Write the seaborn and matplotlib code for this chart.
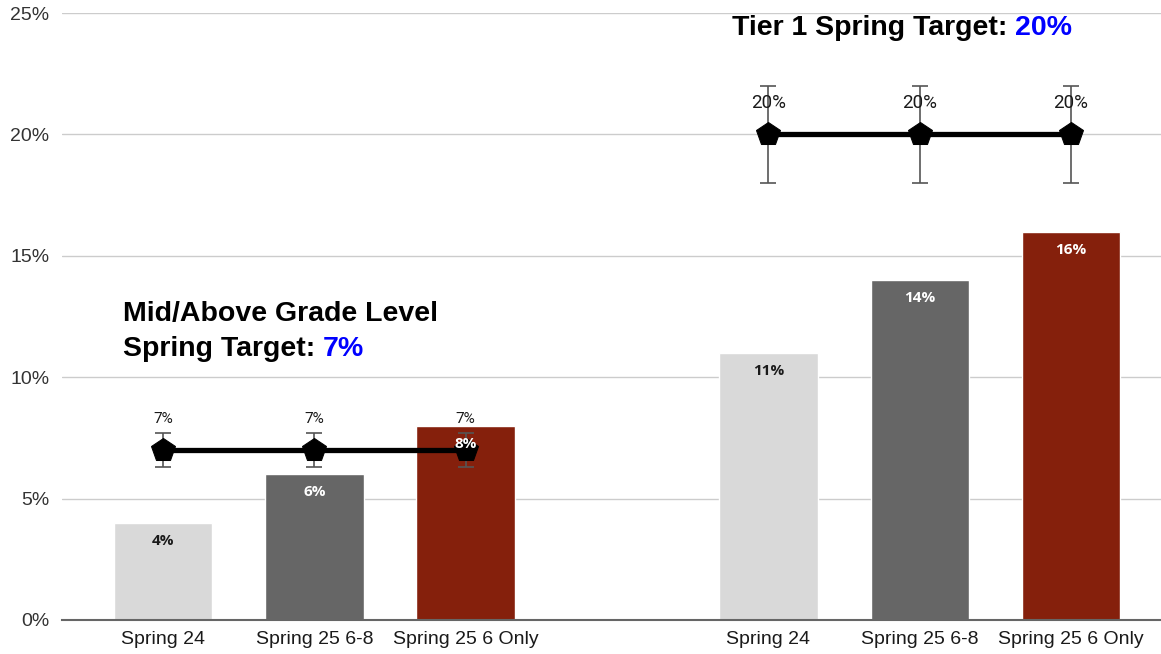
import matplotlib
matplotlib.use("Agg")
import matplotlib.pyplot as plt
import seaborn as sns
import pandas as pd

# Data
categories = ["Spring 24", "Spring 25 6-8", "Spring 25 6 Only"]
groups = ["Mid/Above Grade Level", "Tier 1"]
mid_values = [4, 6, 8]
tier1_values = [11, 14, 16]
mid_targets = [7, 7, 7]
tier1_targets = [20, 20, 20]
mid_errors = [0.7, 0.7, 0.7]
tier1_errors = [2, 2, 2]
y_ticks = [0, 5, 10, 15, 20, 25]

# Styling
BAR_COLORS = {"Spring 24": "#d9d9d9", "Spring 25 6-8": "#666666", "Spring 25 6 Only": "#85200c"}
LABEL_COLORS = {"Spring 24": "#1a1a1a", "Spring 25 6-8": "white", "Spring 25 6 Only": "white"}
POINT_LABEL_SIZE = {"Mid/Above Grade Level": 11, "Tier 1": 13.5}
CALLOUT_SIZE = 20.5

sns.set_theme(style="whitegrid")
plt.rcParams["font.family"] = ["Liberation Sans", "DejaVu Sans"]

# Build tables; each group gets a blank slot after it
step = len(categories) + 1
rows, trows = [], []
for g, (vals, tgts, errs) in enumerate([(mid_values, mid_targets, mid_errors),
                                        (tier1_values, tier1_targets, tier1_errors)]):
    for i, cat in enumerate(categories):
        rows.append({"pos": g * step + i, "series": cat, "value": vals[i]})
        trows.append({"pos": g * step + i, "group": groups[g], "target": tgts[i], "err": errs[i]})
df = pd.DataFrame(rows)
tdf = pd.DataFrame(trows)

fig = plt.figure(figsize=(11.61, 6.54), dpi=100)
ax = fig.add_axes([62 / 1161, 34 / 654, 1 - 62 / 1161, 607 / 654])

sns.barplot(data=df, x="pos", y="value", hue="series", palette=BAR_COLORS,
            hue_order=categories, native_scale=True, dodge=False, width=0.65,
            saturation=1, legend=False, ax=ax, zorder=2)

ax.errorbar(tdf["pos"], tdf["target"], yerr=tdf["err"], fmt="none",
            ecolor="#555555", elinewidth=1.2, capsize=6, capthick=1.2, zorder=3)

sns.lineplot(data=tdf, x="pos", y="target", units="group", estimator=None,
             color="black", lw=3.8, marker="p", markersize=18,
             markeredgecolor="black", ax=ax, zorder=4)

# Bar value labels inside top of bars
for _, r in df.iterrows():
    ax.annotate(f"{r['value']:.0f}%", (r["pos"], r["value"]), xytext=(0, -13),
                textcoords="offset points", ha="center", va="center",
                fontsize=11, fontweight="bold", family=["Open Sans", "DejaVu Sans"],
                color=LABEL_COLORS[r["series"]], zorder=6)

# Target point labels
for _, r in tdf.iterrows():
    ax.annotate(f"{r['target']:.0f}%", (r["pos"], r["target"]), xytext=(0, 22.5),
                textcoords="offset points", ha="center", va="center",
                fontsize=POINT_LABEL_SIZE[r["group"]], family=["Roboto", "DejaVu Sans"],
                color="#1a1a1a", zorder=6)

# Target callouts
ax.text(-0.265, 12.6, "Mid/Above Grade Level", fontsize=CALLOUT_SIZE, fontweight="bold",
        va="center", ha="left", color="black")
t2 = ax.text(-0.265, 11.15, "Spring Target: ", fontsize=CALLOUT_SIZE, fontweight="bold",
             va="center", ha="left", color="black")
ax.annotate(f"{mid_targets[0]}%", xy=(1, 0), xycoords=t2, va="bottom", ha="left",
            fontsize=CALLOUT_SIZE, fontweight="bold", color="#0000ff")
t3 = ax.text(3.76, 24.4, "Tier 1 Spring Target: ", fontsize=CALLOUT_SIZE, fontweight="bold",
             va="center", ha="left", color="black")
ax.annotate(f"{tier1_targets[0]}%", xy=(1, 0), xycoords=t3, va="bottom", ha="left",
            fontsize=CALLOUT_SIZE, fontweight="bold", color="#0000ff")

# Axes formatting
ax.set_xlim(-0.667, 6.594)
ax.set_ylim(0, 25)
ax.set_xticks(df["pos"])
ax.set_xticklabels(df["series"], fontsize=14, color="#1a1a1a")
ax.set_yticks(y_ticks)
ax.set_yticklabels([f"{v}%" for v in y_ticks], fontsize=14, color="#333333")
ax.tick_params(axis="x", length=0, pad=8)
ax.tick_params(axis="y", length=0, pad=9)
ax.set_xlabel("")
ax.set_ylabel("")
ax.grid(axis="x", visible=False)
ax.grid(axis="y", color="#cccccc", linewidth=1)
ax.set_axisbelow(True)
for side in ["left", "right", "top"]:
    ax.spines[side].set_visible(False)
ax.spines["bottom"].set_color("#666666")
ax.spines["bottom"].set_linewidth(1.5)
ax.spines["bottom"].set_zorder(5)

fig.savefig("out.png", dpi=100)
